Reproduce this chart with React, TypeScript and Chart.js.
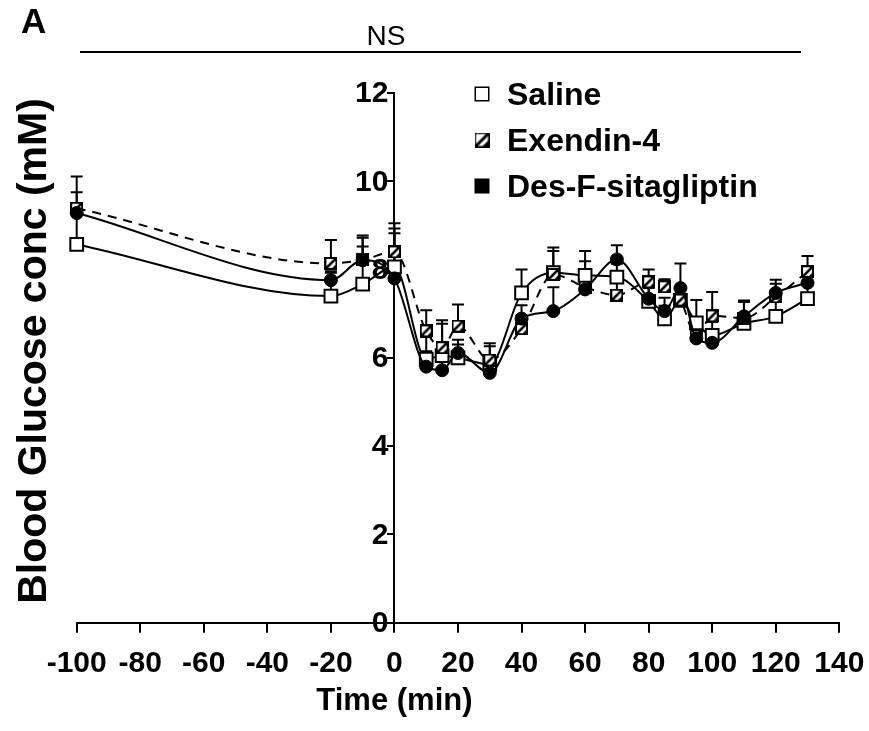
import React, { useEffect, useRef } from "react";
import { Chart, registerables } from "chart.js";

Chart.register(...registerables);

// ---- data ----
const times = [-100, -20, -10, 0, 10, 15, 20, 30, 40, 50, 60, 70, 80, 85, 90, 95, 100, 110, 120, 130];

const salineMean = [8.57, 7.40, 7.67, 8.06, 5.97, 6.05, 6.00, 5.85, 7.47, 7.93, 7.87, 7.83, 7.28, 6.88, 7.30, 6.79, 6.51, 6.78, 6.94, 7.34];
const salineSem = [1.18, 0.53, 1.05, 0.87, 0.50, 0.72, 0.30, 0.41, 0.53, 0.49, 0.55, 0.30, 0.30, 0.30, 0.30, 0.52, 0.30, 0.49, 0.36, 0.30];

const exendinMean = [9.39, 8.14, 8.22, 8.40, 6.61, 6.23, 6.72, 5.95, 6.66, 7.89, 7.60, 7.42, 7.72, 7.61, 7.31, 6.50, 6.95, 6.90, 7.38, 7.95];
const exendinSem = [0.72, 0.53, 0.30, 0.65, 0.47, 0.62, 0.49, 0.38, 0.30, 0.61, 0.59, 0.30, 0.28, 0.17, 0.30, 0.30, 0.54, 0.37, 0.30, 0.36];

const desfMean = [9.28, 7.76, 8.21, 7.80, 5.80, 5.72, 6.11, 5.66, 6.89, 7.06, 7.55, 8.23, 7.34, 7.06, 7.58, 6.44, 6.34, 6.94, 7.47, 7.70];
const desfSem = [0.20, 0.20, 0.56, 1.02, 0.35, 0.30, 0.30, 0.20, 0.30, 0.54, 0.30, 0.32, 0.30, 0.30, 0.56, 0.30, 0.30, 0.36, 0.30, 0.30];

const seriesNames = ["Saline", "Exendin-4", "Des-F-sitagliptin"];
const yTickValues = [0, 2, 4, 6, 8, 10, 12];
const xMin = -100;
const xMax = 140;
const xStep = 20;
const yMin = 0;
const yMax = 12;

const panelLabel = "A";
const sigLabel = "NS";
const xTitle = "Time (min)";
const yTitle = "Blood Glucose conc (mM)";

const FONT = '"Liberation Sans", Arial, Helvetica, sans-serif';

function makeHatch(size: number, border: number): HTMLCanvasElement {
  const c = document.createElement("canvas");
  c.width = size;
  c.height = size;
  const ctx = c.getContext("2d")!;
  ctx.fillStyle = "#fff";
  ctx.fillRect(0, 0, size, size);
  ctx.save();
  ctx.beginPath();
  ctx.rect(0, 0, size, size);
  ctx.clip();
  ctx.strokeStyle = "#000";
  ctx.lineWidth = size * 0.2;
  ctx.beginPath();
  ctx.moveTo(-1, size + 1);
  ctx.lineTo(size + 1, -1);
  ctx.stroke();
  ctx.fillStyle = "#000";
  ctx.beginPath();
  ctx.moveTo(size, size * 0.45);
  ctx.lineTo(size, size);
  ctx.lineTo(size * 0.45, size);
  ctx.closePath();
  ctx.fill();
  ctx.restore();
  ctx.strokeStyle = "#000";
  ctx.lineWidth = border;
  ctx.strokeRect(border / 2, border / 2, size - border, size - border);
  return c;
}

export default function App() {
  const canvasRef = useRef<HTMLCanvasElement | null>(null);

  useEffect(() => {
    const canvas = canvasRef.current;
    if (!canvas) return;
    const hatchPoint = makeHatch(13, 2);
    const hatchLegend = makeHatch(15, 1.5);

    const pts = (means: number[]) => times.map((t, i) => ({ x: t, y: means[i] }));

    const errorBars = {
      id: "errorBars",
      beforeDatasetsDraw(chart: any) {
        const { ctx, scales } = chart;
        const x = scales.x;
        const y = scales.y;
        ctx.save();
        ctx.strokeStyle = "#000";
        ctx.lineWidth = 2;
        chart.data.datasets.forEach((ds: any) => {
          const sem: number[] = ds.errors;
          ds.data.forEach((p: any, j: number) => {
            const px = x.getPixelForValue(p.x);
            const py = y.getPixelForValue(p.y);
            const pt = y.getPixelForValue(p.y + sem[j]);
            ctx.beginPath();
            ctx.moveTo(px, py);
            ctx.lineTo(px, pt);
            ctx.moveTo(px - 6, pt);
            ctx.lineTo(px + 6, pt);
            ctx.stroke();
          });
        });
        ctx.restore();
      },
    };

    const decorations = {
      id: "decorations",
      afterDraw(chart: any) {
        const { ctx, scales } = chart;
        const y = scales.y;
        const x = scales.x;
        const axisX = x.getPixelForValue(0);
        ctx.save();
        ctx.fillStyle = "#000";
        ctx.strokeStyle = "#000";

        // y tick labels
        ctx.font = `bold 30px ${FONT}`;
        ctx.textAlign = "right";
        ctx.textBaseline = "middle";
        yTickValues.forEach((v) => {
          ctx.fillText(String(v), axisX - 6, y.getPixelForValue(v) + 1);
        });

        // x tick labels
        ctx.textAlign = "center";
        x.ticks.forEach((t: any) => {
          ctx.fillText(String(t.value), x.getPixelForValue(t.value), 664);
        });

        // panel label
        ctx.font = `bold 35px ${FONT}`;
        ctx.textAlign = "left";
        ctx.textBaseline = "middle";
        ctx.fillText(panelLabel, 21, 23);

        // NS
        ctx.font = `28px ${FONT}`;
        ctx.textAlign = "center";
        ctx.fillText(sigLabel, 386, 37);
        ctx.lineWidth = 2;
        ctx.beginPath();
        ctx.moveTo(80, 52);
        ctx.lineTo(801, 52);
        ctx.stroke();

        // x title
        ctx.font = `bold 31px ${FONT}`;
        ctx.textAlign = "center";
        ctx.fillText(xTitle, axisX, 701);

        // y title
        ctx.save();
        ctx.translate(35, 351);
        ctx.rotate(-Math.PI / 2);
        ctx.font = `bold 41px ${FONT}`;
        ctx.textAlign = "center";
        ctx.textBaseline = "middle";
        ctx.fillText(yTitle, 0, 0);
        ctx.restore();

        // legend
        const lx = 482;
        const ly0 = 94;
        const gap = 46;
        const s = 15;
        ctx.font = `bold 32px ${FONT}`;
        ctx.textAlign = "left";
        ctx.textBaseline = "middle";
        seriesNames.forEach((name, i) => {
          const cy = ly0 + gap * i;
          if (i === 0) {
            ctx.fillStyle = "#fff";
            ctx.fillRect(lx - s / 2, cy - s / 2, s, s);
            ctx.lineWidth = 1.5;
            ctx.strokeStyle = "#000";
            ctx.strokeRect(lx - s / 2 + 0.75, cy - s / 2 + 0.75, s - 1.5, s - 1.5);
          } else if (i === 1) {
            ctx.drawImage(hatchLegend, lx - s / 2, cy - s / 2, s, s);
          } else {
            ctx.fillStyle = "#000";
            ctx.fillRect(lx - s / 2, cy - s / 2, s, s);
          }
          ctx.fillStyle = "#000";
          ctx.fillText(name, lx + 25, cy + 2);
        });
        ctx.restore();
      },
    };

    const chart = new Chart(canvas, {
      type: "line",
      data: {
        datasets: [
          {
            label: seriesNames[2],
            data: pts(desfMean),
            errors: desfSem,
            borderColor: "#000",
            borderWidth: 2,
            pointStyle: "circle",
            pointRadius: 6.5,
            pointBackgroundColor: "#000",
            pointBorderColor: "#000",
            pointBorderWidth: 1,
            cubicInterpolationMode: "monotone",
            fill: false,
            clip: false,
            order: 0,
          } as any,
          {
            label: seriesNames[1],
            data: pts(exendinMean),
            errors: exendinSem,
            borderColor: "#000",
            borderWidth: 2,
            borderDash: [9, 7],
            pointStyle: hatchPoint,
            pointRadius: 7,
            cubicInterpolationMode: "monotone",
            fill: false,
            clip: false,
            order: 1,
          } as any,
          {
            label: seriesNames[0],
            data: pts(salineMean),
            errors: salineSem,
            borderColor: "#000",
            borderWidth: 2,
            pointStyle: "rect",
            pointRadius: 9,
            pointBackgroundColor: "#fff",
            pointBorderColor: "#000",
            pointBorderWidth: 2,
            cubicInterpolationMode: "monotone",
            fill: false,
            clip: false,
            order: 2,
          } as any,
        ],
      },
      options: {
        responsive: false,
        animation: false,
        devicePixelRatio: 1,
        events: [],
        layout: { padding: { left: 76.7, right: 29.7, top: 93, bottom: 0 } },
        plugins: {
          legend: { display: false },
          tooltip: { enabled: false },
          title: { display: false },
        },
        scales: {
          x: {
            type: "linear",
            position: "bottom",
            min: xMin,
            max: xMax,
            afterFit: (scale: any) => {
              scale.height = 731 - 622.7;
            },
            ticks: {
              stepSize: xStep,
              autoSkip: false,
              maxRotation: 0,
              display: false,
            },
            grid: {
              drawOnChartArea: false,
              drawTicks: true,
              tickLength: 10,
              color: "#000",
              lineWidth: 2,
            },
            border: { display: true, color: "#000", width: 2 },
          },
          y: {
            type: "linear",
            position: { x: 0 } as any,
            min: yMin,
            max: yMax,
            ticks: { stepSize: 2, display: false },
            grid: {
              drawOnChartArea: false,
              drawTicks: true,
              tickLength: 6,
              color: "#000",
              lineWidth: 2,
            },
            border: { display: true, color: "#000", width: 2 },
          },
        },
      } as any,
      plugins: [errorBars, decorations],
    });

    return () => {
      chart.destroy();
    };
  }, []);

  return (
    <canvas
      ref={canvasRef}
      width={869}
      height={731}
      style={{ position: "fixed", left: 0, top: 0, width: 869, height: 731, display: "block", background: "#fff" }}
    />
  );
}
